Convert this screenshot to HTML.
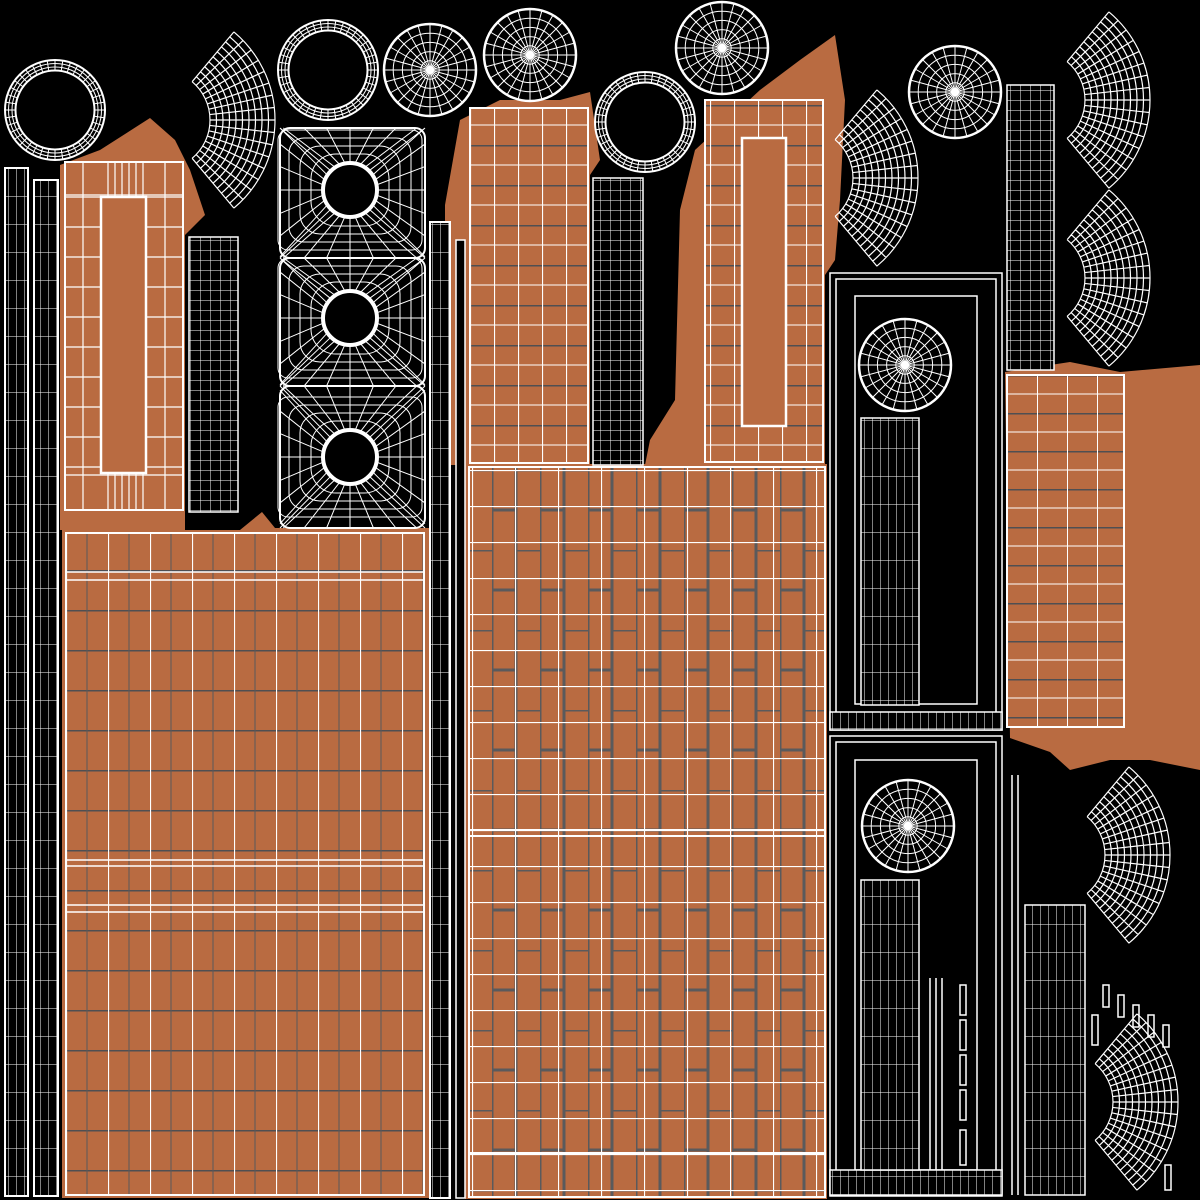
<!DOCTYPE html>
<html><head><style>html,body{margin:0;padding:0;background:#000;width:1200px;height:1200px;overflow:hidden}</style></head>
<body>
<svg id="s" width="1200" height="1200" viewBox="0 0 1200 1200" xmlns="http://www.w3.org/2000/svg">
<defs>
<pattern id="g12" width="10" height="10" patternUnits="userSpaceOnUse"><rect width="10" height="10" fill="#000"/><path d="M0 0H10M0 0V10" stroke="#fff" stroke-width="1"/></pattern>
<pattern id="gs" width="8" height="28" patternUnits="userSpaceOnUse"><rect width="8" height="28" fill="#000"/><path d="M0 0H8M0 0V28" stroke="#fff" stroke-width="1"/></pattern>
<pattern id="big" width="42" height="40" patternUnits="userSpaceOnUse" x="66" y="530"><rect width="42" height="40" fill="#b96b41"/><path d="M0 0H42" stroke="#4f4f52" stroke-width="3"/><path d="M21 0V40" stroke="#5a5a5c" stroke-width="2" opacity=".5"/><path d="M0.5 0V40" stroke="#fff" stroke-width="1.2"/></pattern>
<pattern id="brick" width="48" height="80" patternUnits="userSpaceOnUse" x="492" y="470"><rect width="48" height="80" fill="#b96b41"/><path d="M0 0V80M24 0V80" stroke="#5a5a5c" stroke-width="3"/><path d="M0 40H24M24 0H48" stroke="#5a5a5c" stroke-width="3"/></pattern>
<pattern id="wgrid" width="43" height="36" patternUnits="userSpaceOnUse" x="472" y="470"><path d="M0.5 0V36M0 0.5H43" stroke="#fff" stroke-width="1.2" fill="none"/></pattern>
<pattern id="plank" width="24" height="40" patternUnits="userSpaceOnUse" x="470" y="105"><rect width="24" height="40" fill="#b96b41"/><path d="M0 0H24" stroke="#4f4f52" stroke-width="3"/><path d="M0.5 0V40" stroke="#fff" stroke-width="1.2"/><path d="M0 20H24" stroke="#fff" stroke-width="1"/></pattern>
<pattern id="plank2" width="30" height="38" patternUnits="userSpaceOnUse" x="1007" y="375"><rect width="30" height="38" fill="#b96b41"/><path d="M0 0H30" stroke="#4f4f52" stroke-width="3"/><path d="M0.5 0V38" stroke="#fff" stroke-width="1"/><path d="M0 19H30" stroke="#fff" stroke-width="1"/></pattern>
</defs>
<rect width="1200" height="1200" fill="#000"/>
<g fill="#b96b41">
<path d="M60 165 L100 150 L150 118 L175 140 L190 170 L205 215 L185 235 L185 530 L60 530Z"/>
<path d="M240 530 L262 512 L275 528 L430 528 L430 1198 L62 1198 L62 530Z"/>
<path d="M445 205 L460 120 L500 100 L560 100 L590 92 L600 160 L590 175 L590 465 L445 465Z"/>
<path d="M645 465 L650 440 L675 400 L680 210 L695 150 L760 90 L800 60 L835 35 L845 100 L840 200 L835 260 L825 275 L825 465Z"/>
<path d="M1005 372 L1070 362 L1120 372 L1200 365 L1200 770 L1150 760 L1110 760 L1070 770 L1050 752 L1010 738Z"/>
<rect x="465" y="464" width="362" height="735"/>
</g>
<rect x="5" y="168" width="23" height="1028" fill="url(#gs)" stroke="#fff" stroke-width="2"/>
<rect x="34" y="180" width="24" height="1016" fill="url(#gs)" stroke="#fff" stroke-width="2"/>
<rect x="430" y="222" width="20" height="976" fill="url(#gs)" stroke="#fff" stroke-width="2"/>
<rect x="456" y="240" width="9" height="958" fill="#000" stroke="#fff" stroke-width="1.5"/>
<rect x="65" y="162" width="118" height="348" fill="none" stroke="#fff" stroke-width="2"/>
<rect x="101" y="197" width="45" height="276" fill="none" stroke="#fff" stroke-width="2.5"/>
<g stroke="#fff" stroke-width="1.2" id="lp"></g>
<rect x="189" y="237" width="49" height="275" fill="url(#g12)" stroke="#fff" stroke-width="1.5"/>
<rect x="66" y="533" width="358" height="662" fill="url(#big)" stroke="#fff" stroke-width="2"/>
<path d="M66 572H424M66 580H424M66 860H424M66 866H424M66 905H424M66 912H424" stroke="#fff" stroke-width="1.5"/>
<rect x="469" y="467" width="356" height="730" fill="url(#brick)"/>
<rect x="469" y="467" width="356" height="730" fill="url(#wgrid)" stroke="#fff" stroke-width="2"/>
<path d="M469 830H825M469 836H825M469 1153H825" stroke="#fff" stroke-width="2"/>
<rect x="470" y="108" width="118" height="355" fill="url(#plank)" stroke="#fff" stroke-width="2"/>
<rect x="593" y="178" width="50" height="287" fill="url(#g12)" stroke="#fff" stroke-width="1.5"/>
<rect x="705" y="100" width="118" height="362" fill="url(#plank)" stroke="#fff" stroke-width="2"/>
<rect x="742" y="138" width="44" height="288" fill="#b96b41" stroke="#fff" stroke-width="2.5"/>
<g fill="none" stroke="#fff" stroke-width="1.5">
<rect x="830" y="273" width="172" height="457"/><rect x="836" y="279" width="160" height="445"/><rect x="855" y="296" width="122" height="408"/><rect x="830" y="712" width="172" height="18" fill="url(#gs)"/>
<rect x="830" y="736" width="172" height="460"/><rect x="836" y="742" width="160" height="448"/><rect x="855" y="760" width="122" height="410"/><rect x="830" y="1170" width="172" height="25" fill="url(#gs)"/>
</g>
<rect x="861" y="418" width="58" height="287" fill="url(#gs)" stroke="#fff" stroke-width="1.5"/>
<rect x="861" y="880" width="58" height="290" fill="url(#gs)" stroke="#fff" stroke-width="1.5"/>
<rect x="1007" y="85" width="47" height="285" fill="url(#g12)" stroke="#fff" stroke-width="1.5"/>
<rect x="1007" y="375" width="117" height="352" fill="url(#plank2)" stroke="#fff" stroke-width="2"/>
<rect x="1025" y="905" width="60" height="290" fill="url(#gs)" stroke="#fff" stroke-width="1.5"/>
<path d="M1012 775V1195M1018 775V1195M930 978V1170M936 978V1170M942 978V1170" stroke="#fff" stroke-width="1.5"/>
<g fill="none" stroke="#fff" stroke-width="1.5"><rect x="960" y="985" width="6" height="30"/><rect x="960" y="1020" width="6" height="30"/><rect x="960" y="1055" width="6" height="30"/><rect x="960" y="1090" width="6" height="30"/><rect x="960" y="1130" width="6" height="35"/><rect x="1103" y="985" width="6" height="22"/><rect x="1118" y="995" width="6" height="22"/><rect x="1133" y="1005" width="6" height="22"/><rect x="1148" y="1015" width="6" height="22"/><rect x="1163" y="1025" width="6" height="22"/><rect x="1092" y="1015" width="6" height="30"/><rect x="1165" y="1165" width="6" height="25"/></g>
<g id="dyn"></g>
</svg>
<script>
var NS="http://www.w3.org/2000/svg",d=document.getElementById("dyn");
function el(t,a){var e=document.createElementNS(NS,t);for(var k in a)e.setAttribute(k,a[k]);d.appendChild(e);return e;}
function ring(cx,cy,r){for(var i=0;i<4;i++)el("circle",{cx:cx,cy:cy,r:r-i*3.5,fill:"none",stroke:"#fff","stroke-width":i==0||i==3?2:1});
 var p="";for(var a=0;a<40;a++){var t=a*Math.PI/20;p+="M"+(cx+Math.cos(t)*(r-10.5))+" "+(cy+Math.sin(t)*(r-10.5))+"L"+(cx+Math.cos(t)*r)+" "+(cy+Math.sin(t)*r);}el("path",{d:p,stroke:"#fff","stroke-width":1});}
function spoke(cx,cy,r){el("circle",{cx:cx,cy:cy,r:r,fill:"none",stroke:"#fff","stroke-width":2.5});
 for(var k=1;k<5;k++)el("circle",{cx:cx,cy:cy,r:r*k/5,fill:"none",stroke:"#fff","stroke-width":1});
 var p="";for(var a=0;a<24;a++){var t=a*Math.PI/12;p+="M"+cx+" "+cy+"L"+(cx+Math.cos(t)*r)+" "+(cy+Math.sin(t)*r);}el("path",{d:p,stroke:"#fff","stroke-width":1});}
function fan(cx,cy,r1,r2,a1,a2){var p="";for(var k=0;k<=10;k++){var r=r1+(r2-r1)*k/10;p+="M"+(cx+Math.cos(a1)*r)+" "+(cy+Math.sin(a1)*r)+"A"+r+" "+r+" 0 0 1 "+(cx+Math.cos(a2)*r)+" "+(cy+Math.sin(a2)*r);}
 for(var j=0;j<=16;j++){var t=a1+(a2-a1)*j/16;p+="M"+(cx+Math.cos(t)*r1)+" "+(cy+Math.sin(t)*r1)+"L"+(cx+Math.cos(t)*r2)+" "+(cy+Math.sin(t)*r2);}
 el("path",{d:p,fill:"none",stroke:"#fff","stroke-width":1.2});}
ring(55,110,50);ring(328,70,50);ring(645,122,50);
spoke(430,70,46);spoke(530,55,46);spoke(722,48,46);spoke(955,92,46);spoke(905,365,46);spoke(908,826,46);
var R=Math.PI/180;
function f2(cx,cy){fan(cx,cy,50,115,-50*R,50*R);}
f2(160,120);f2(803,178);f2(1035,100);f2(1035,278);f2(1055,855);f2(1063,1102);
function tile(x,y,w,h,cx,cy){el("rect",{x:x,y:y,width:w,height:h,rx:10,fill:"none",stroke:"#fff","stroke-width":2});
 var p="";for(var a=0;a<32;a++){var t=a*Math.PI/16,ex=cx+Math.cos(t)*120,ey=cy+Math.sin(t)*120;ex=Math.max(x,Math.min(x+w,ex));ey=Math.max(y,Math.min(y+h,ey));p+="M"+(cx+Math.cos(t)*28)+" "+(cy+Math.sin(t)*28)+"L"+ex+" "+ey;}
 el("path",{d:p,stroke:"#fff","stroke-width":1});
 for(var k=1;k<5;k++)el("rect",{x:cx-28-k*11,y:cy-28-k*8,width:56+k*22,height:56+k*16,rx:30-k*5,fill:"none",stroke:"#fff","stroke-width":1});
 el("circle",{cx:cx,cy:cy,r:27,fill:"#000",stroke:"#fff","stroke-width":4});}
tile(280,128,145,130,350,190);tile(280,258,145,128,350,318);tile(280,386,145,142,350,457);
var lp=document.getElementById("lp"),p="";
for(var i=0;i<10;i++){var yy=197+i*30;p+="M65 "+yy+"H101M146 "+yy+"H183";}
p+="M83 162V510M165 162V510M65 195H183M65 475H183";
for(var j=0;j<6;j++)p+="M"+(108+j*7)+" 162V197M"+(108+j*7)+" 473V510";
var e=document.createElementNS(NS,"path");e.setAttribute("d",p);lp.appendChild(e);
</script>
</body></html>
